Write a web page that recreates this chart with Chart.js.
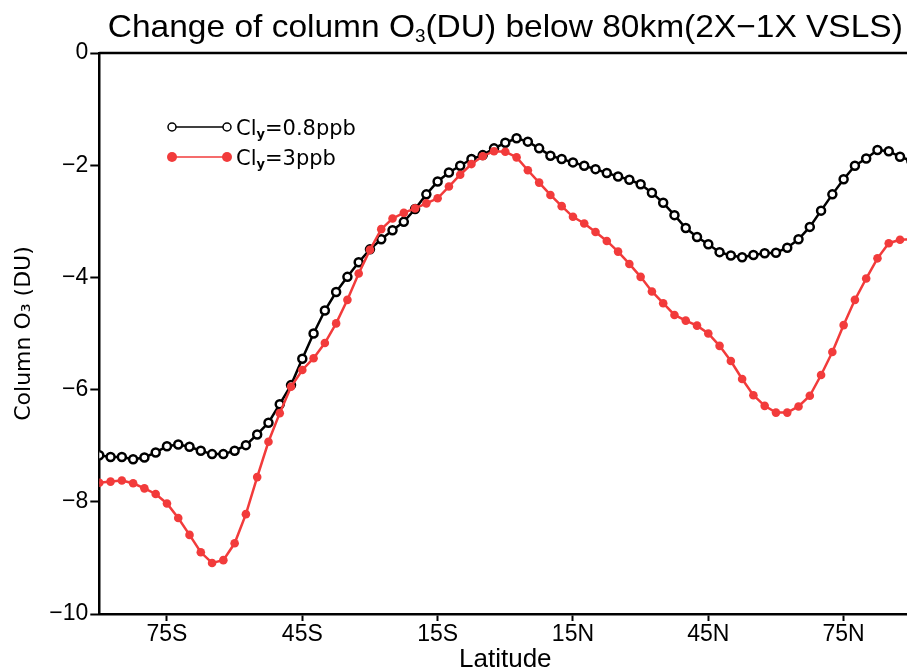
<!DOCTYPE html>
<html><head><meta charset="utf-8">
<script src="https://cdn.jsdelivr.net/npm/chart.js@4.4.1/dist/chart.umd.min.js"></script>
<style>
html,body{margin:0;padding:0;overflow:hidden;background:#fff;width:907px;height:670px}
#wrap{position:absolute;left:0;top:0;width:930px;height:670px}
</style>
</head><body><div id="wrap"><canvas id="c"></canvas></div>
<script>
const latitudes=[-90,-87.5,-85,-82.5,-80,-77.5,-75,-72.5,-70,-67.5,-65,-62.5,-60,-57.5,-55,-52.5,-50,-47.5,-45,-42.5,-40,-37.5,-35,-32.5,-30,-27.5,-25,-22.5,-20,-17.5,-15,-12.5,-10,-7.5,-5,-2.5,0,2.5,5,7.5,10,12.5,15,17.5,20,22.5,25,27.5,30,32.5,35,37.5,40,42.5,45,47.5,50,52.5,55,57.5,60,62.5,65,67.5,70,72.5,75,77.5,80,82.5,85,87.5,90];
const colO3_Cly08=[-7.17,-7.20,-7.20,-7.24,-7.21,-7.12,-7.01,-6.98,-7.02,-7.09,-7.15,-7.15,-7.09,-6.99,-6.80,-6.59,-6.26,-5.92,-5.45,-5.00,-4.59,-4.26,-3.99,-3.73,-3.50,-3.32,-3.16,-3.01,-2.78,-2.52,-2.29,-2.13,-2.01,-1.89,-1.82,-1.70,-1.60,-1.52,-1.58,-1.70,-1.83,-1.89,-1.95,-2.01,-2.07,-2.14,-2.20,-2.26,-2.34,-2.49,-2.67,-2.89,-3.12,-3.28,-3.41,-3.55,-3.61,-3.64,-3.60,-3.57,-3.56,-3.47,-3.32,-3.10,-2.81,-2.52,-2.25,-2.01,-1.88,-1.73,-1.75,-1.85,-1.92];
const colO3_Cly3=[-7.66,-7.64,-7.62,-7.67,-7.76,-7.86,-8.03,-8.29,-8.59,-8.90,-9.09,-9.04,-8.74,-8.22,-7.56,-6.93,-6.42,-5.95,-5.65,-5.44,-5.17,-4.82,-4.40,-3.93,-3.51,-3.14,-2.95,-2.85,-2.77,-2.68,-2.59,-2.38,-2.17,-1.98,-1.84,-1.75,-1.76,-1.86,-2.09,-2.31,-2.53,-2.73,-2.92,-3.04,-3.19,-3.35,-3.54,-3.76,-3.99,-4.25,-4.46,-4.67,-4.77,-4.86,-5.00,-5.22,-5.49,-5.81,-6.10,-6.29,-6.41,-6.41,-6.30,-6.11,-5.74,-5.33,-4.85,-4.40,-4.02,-3.66,-3.39,-3.33,-3.32];
const xTickValues=[-75,-45,-15,15,45,75];
const xTickLabels=['75S','45S','15S','15N','45N','75N'];
const seriesNames=[['Cl','y','=0.8ppb'],['Cl','y','=3ppb']];
const titleParts=['Change of column O','3','(DU) below 80km(2X\u22121X VSLS)'];
const yAxisTitle='Column O\u2083 (DU)';
const xAxisTitle='Latitude';

const RED='#F23B3B';
const NARROW='"Liberation Sans Narrow","Liberation Sans",sans-serif';
const ROUND='"DejaVu Sans","Noto Sans",sans-serif';

function drawRich(ctx,x,y,parts,align){
  let w=0;
  parts.forEach(p=>{ctx.font=p.f;p.w=ctx.measureText(p.t).width;w+=p.w;});
  let cx=align==='center'?x-w/2:x;
  ctx.textAlign='left';ctx.textBaseline='alphabetic';
  parts.forEach(p=>{ctx.font=p.f;ctx.fillText(p.t,cx,y+(p.dy||0));cx+=p.w;});
  return w;
}

const overlay={
  id:'overlay',
  afterDraw(chart){
    const ctx=chart.ctx,a=chart.chartArea;
    ctx.save();
    ctx.strokeStyle='#000';ctx.lineWidth=2.5;
    ctx.beginPath();ctx.moveTo(a.left,a.top);ctx.lineTo(a.right,a.top);ctx.lineTo(a.right,a.bottom);ctx.stroke();
    ctx.fillStyle='#000';
    const cx=(a.left+a.right)/2;
    const tp=[{t:titleParts[0],f:'32px '+NARROW},{t:titleParts[1],f:'18px '+NARROW,dy:5},{t:titleParts[2],f:'32px '+NARROW}];
    let w=0;tp.forEach(p=>{ctx.font=p.f;w+=ctx.measureText(p.t).width;});
    const target=795;
    ctx.save();ctx.translate(cx,37);ctx.scale(target/w,1);
    drawRich(ctx,0,0,tp,'center');
    ctx.restore();
    const rows=[{y:127,color:'#000',open:true},{y:157,color:RED,open:false}];
    rows.forEach((r,i)=>{
      ctx.strokeStyle=r.color;ctx.lineWidth=1.5;
      ctx.beginPath();ctx.moveTo(172,r.y);ctx.lineTo(227,r.y);ctx.stroke();
      [172,227].forEach(px=>{
        ctx.beginPath();ctx.arc(px,r.y,r.open?4:5,0,Math.PI*2);
        if(r.open){ctx.fillStyle='#fff';ctx.fill();ctx.lineWidth=1.5;ctx.strokeStyle='#000';ctx.stroke();}
        else{ctx.fillStyle=RED;ctx.fill();}
      });
      ctx.fillStyle='#000';
      const n=seriesNames[i];
      drawRich(ctx,236,r.y+8,[{t:n[0],f:'21px '+ROUND},{t:n[1],f:'bold 13px '+ROUND,dy:3},{t:n[2],f:'21px '+ROUND}],'left');
    });
    ctx.restore();
  }
};

const ctx=document.getElementById('c').getContext('2d');
new Chart(ctx,{
  type:'line',
  data:{datasets:[
    {label:'Cly=3ppb',data:latitudes.map((v,i)=>({x:v,y:colO3_Cly3[i]})),borderColor:RED,backgroundColor:RED,
     borderWidth:2.5,pointRadius:4.3,pointBorderWidth:0,pointBackgroundColor:RED,tension:0,order:0},
    {label:'Cly=0.8ppb',data:latitudes.map((v,i)=>({x:v,y:colO3_Cly08[i]})),borderColor:'#000',backgroundColor:'#fff',
     borderWidth:2.5,pointRadius:4,pointBorderWidth:2.5,pointBackgroundColor:'#fff',pointBorderColor:'#000',tension:0,order:1}
  ]},
  options:{
    responsive:true,maintainAspectRatio:false,animation:false,
    layout:{padding:{left:0,right:18.7,top:53,bottom:0}},
    plugins:{legend:{display:false},tooltip:{enabled:false},title:{display:false}},
    scales:{
      x:{type:'linear',min:-90,max:90,
        afterBuildTicks(s){s.ticks=xTickValues.map(v=>({value:v}));},
        afterFit(s){s.height=56;},
        ticks:{callback:(v)=>xTickLabels[xTickValues.indexOf(v)],color:'#000',font:{family:NARROW,size:23},padding:0,maxRotation:0,autoSkip:false},
        grid:{drawOnChartArea:false,tickLength:7,tickWidth:2,tickColor:'#000'},
        border:{display:true,color:'#000',width:2.5},
        title:{display:true,text:xAxisTitle,color:'#000',font:{family:NARROW,size:26},padding:{top:0,bottom:-5}}
      },
      y:{type:'linear',min:-10,max:0,
        afterFit(s){s.width=99.3;},
        ticks:{stepSize:2,callback:(v)=>v<0?'\u2212'+Math.abs(v):String(v),color:'#000',font:{family:NARROW,size:23},padding:2},
        grid:{drawOnChartArea:false,tickLength:9,tickWidth:2,tickColor:'#000'},
        border:{display:true,color:'#000',width:2.5},
        title:{display:true,text:yAxisTitle,color:'#000',font:{family:ROUND,size:22},padding:{top:11,bottom:0}}
      }
    }
  },
  plugins:[overlay]
});
</script>
</body></html>
